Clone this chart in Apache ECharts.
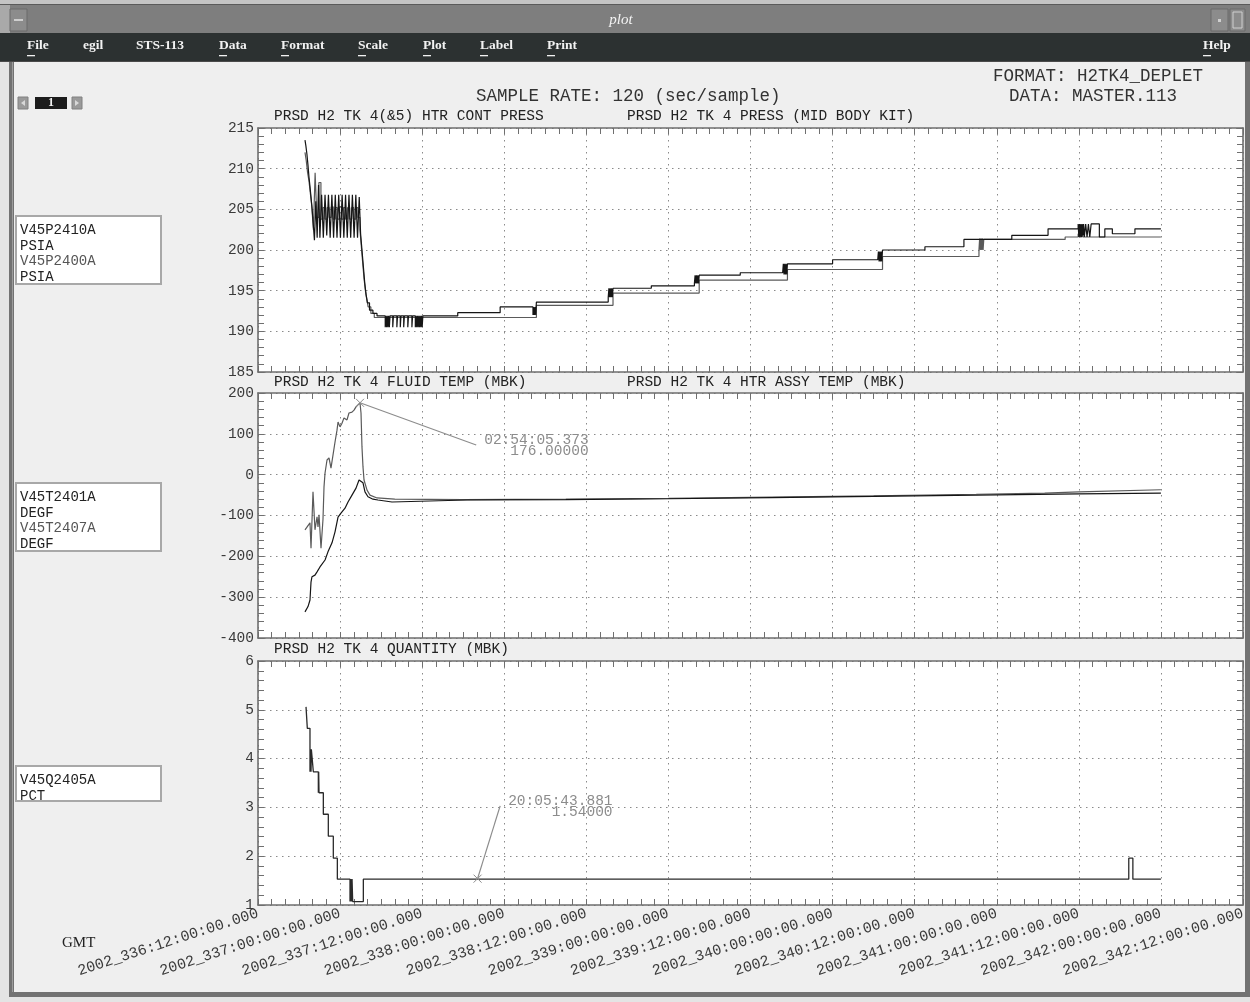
<!DOCTYPE html>
<html><head><meta charset="utf-8">
<script src="https://cdn.jsdelivr.net/npm/echarts/dist/echarts.min.js"></script>
<style>html,body{margin:0;padding:0;background:#efefef;}#c{width:1250px;height:1002px;}</style>
</head><body><div id="c"></div>
<script>
// x values: hours after 2002_336:12:00:00 GMT
const xTickLabels = ['2002_336:12:00:00.000','2002_337:00:00:00.000','2002_337:12:00:00.000','2002_338:00:00:00.000','2002_338:12:00:00.000','2002_339:00:00:00.000','2002_339:12:00:00.000','2002_340:00:00:00.000','2002_340:12:00:00.000','2002_341:00:00:00.000','2002_341:12:00:00.000','2002_342:00:00:00.000','2002_342:12:00:00.000'];

// PRSD H2 TK 4(&5) HTR CONT PRESS  (V45P2410A, PSIA)
const pressCont = [[6.87,213.5],[7.00,212.8],[7.15,211.8],[7.30,210.5],[7.45,209.0],[7.60,207.8],[7.75,206.5],[7.90,205.2],[8.05,203.5],[8.25,201.2],[8.45,206.0],[8.65,201.5],[8.85,208.0],[9.05,201.5],[9.30,206.8],[9.55,201.5],[9.80,206.8],[10.05,201.8],[10.30,206.8],[10.55,201.5],[10.80,206.8],[11.05,201.5],[11.30,206.8],[11.55,201.5],[11.80,206.8],[12.05,201.5],[12.30,206.8],[12.55,201.5],[12.80,206.8],[13.05,201.5],[13.30,206.8],[13.55,201.5],[13.80,206.8],[14.05,201.5],[14.30,206.8],[14.55,201.5],[14.80,206.5],[15.00,202.0],[15.20,200.0],[15.40,198.0],[15.60,196.0],[15.80,194.5],[16.00,193.5],[16.30,192.6],[16.80,192.2],[17.40,191.9],
  [18.6,190.5],[18.7,191.9],[18.8,190.5],[18.9,191.9],[19.0,190.5],[19.1,191.9],[19.2,190.5],[19.3,191.9],[19.7,190.5],[19.8,191.9],[20.3,190.5],[20.4,191.9],[20.8,190.5],[20.9,191.9],[21.3,190.5],[21.4,191.9],[21.9,190.5],[22.0,191.9],[22.5,190.5],[22.6,191.9],[23.0,190.5],[23.1,191.9],[23.2,190.5],[23.3,191.9],[23.4,190.5],[23.5,191.9],[23.6,190.5],[23.7,191.9],[23.8,190.5],[23.9,191.9],[24.0,190.5],[24.1,191.9],
  [29.2,192.3],[35.4,193.0],
  [40.2,192.0],[40.3,193.0],[40.4,192.0],[40.5,193.0],[40.6,192.0],[40.7,193.6],
  [51.2,194.2],[51.3,195.3],[51.4,194.2],[51.5,195.3],[51.6,194.2],[51.7,195.3],[51.8,194.2],[51.9,195.3],
  [57.5,195.6],
  [63.8,195.9],[63.9,196.9],[64.0,195.9],[64.1,196.9],[64.2,195.9],[64.3,196.9],[64.4,195.9],[64.5,196.9],
  [70.5,197.2],
  [76.7,197.0],[76.8,198.3],[76.9,197.0],[77.0,198.3],[77.1,197.0],[77.2,198.3],[77.3,197.0],[77.4,198.3],
  [84.0,198.8],
  [90.6,198.6],[90.7,199.8],[90.8,198.6],[90.9,199.8],[91.0,198.6],[91.1,199.8],[91.2,198.6],[91.3,200.0],
  [97.5,200.4],[103.2,201.3],[110.2,201.8],[115.5,202.6],
  [119.9,203.2],[120.0,201.6],[120.1,203.2],[120.2,201.6],[120.3,203.2],[120.4,201.6],[120.5,203.2],[120.6,201.8],[120.7,203.2],[120.8,201.6],[121.0,203.2],[121.2,201.6],[121.4,203.2],[121.6,201.6],[121.8,203.2],
  [123.0,201.6],[123.8,202.6],[124.9,202.0],[128.2,202.6],[132.0,202.6]];
// PRSD H2 TK 4 PRESS (MID BODY KIT)  (V45P2400A, PSIA)
const pressMid = [[6.87,212.0],[7.05,211.0],[7.25,209.5],[7.45,208.5],[7.65,207.0],[7.85,205.5],[8.10,202.5],[8.35,209.5],[8.60,204.0],[8.90,208.3],[9.20,203.8],[9.50,205.2],[9.80,203.8],[10.10,205.2],[10.40,204.0],[10.70,205.3],[11.00,203.8],[11.30,205.2],[11.60,203.8],[11.90,205.3],[12.20,203.8],[12.50,205.2],[12.80,203.8],[13.10,205.2],[13.40,203.8],[13.70,205.2],[14.00,203.8],[14.30,205.2],[14.60,204.0],[14.90,202.5],[15.10,200.5],[15.30,198.5],[15.50,196.5],[15.70,195.0],[15.90,194.0],[16.10,193.0],[16.50,192.2],[17.00,191.7],
  [40.7,193.2],[51.9,194.7],[64.5,196.3],[77.4,197.6],[91.3,199.2],
  [105.4,200.0],[105.5,201.4],[105.6,200.0],[105.7,201.4],[105.8,200.0],[105.9,201.4],[106.0,200.0],[106.1,201.3],
  [118.0,201.6],[119.9,202.0],[120.1,201.6],[120.4,202.2],[120.6,201.6],[132.0,201.6]];

// PRSD H2 TK 4 FLUID TEMP (MBK)  (V45T2401A, DEGF)
const fluidTemp = [[6.87,-336],[7.31,-323],[7.60,-307],[7.75,-263],[7.89,-250],[8.33,-246],[8.63,-238],[9.06,-226],[9.80,-209],[10.23,-189],[10.82,-167],[11.26,-140],[11.70,-104],[12.13,-94],[12.72,-82],[13.16,-67],[13.74,-50],[14.33,-33],[14.77,-13],[15.06,-11],[15.35,-20],[15.64,-42],[16.08,-54],[16.81,-60],[17.54,-62],[19.59,-67],[30.56,-62],[45,-61],[60,-59],[75,-56],[90,-53],[105,-50],[120,-47],[132,-45]];
// PRSD H2 TK 4 HTR ASSY TEMP (MBK)  (V45T2407A, DEGF)
const htrTemp = [[6.87,-135],[7.60,-118],[7.75,-180],[8.04,-42],[8.33,-135],[8.63,-103],[8.77,-128],[8.92,-98],[9.21,-180],[9.50,-110],[9.65,-30],[9.80,4],[10.09,36],[10.38,41],[10.67,16],[11.26,80],[11.55,109],[11.70,129],[11.99,117],[12.28,126],[12.57,139],[13.01,134],[13.30,151],[13.74,153],[14.04,158],[14.33,166],[14.62,163],[14.91,176],[15.06,151],[15.20,68],[15.35,19],[15.50,-13],[15.94,-38],[16.37,-50],[17.40,-57],[20,-60],[30,-61],[45,-60],[60,-58],[75,-55],[90,-52],[105,-48],[115,-45],[120,-42],[132,-37]];

// PRSD H2 TK 4 QUANTITY (MBK)  (V45Q2405A, PCT)
const quantity = [[7.02,5.06],[7.21,4.62],[7.60,3.73],[7.68,4.19],[7.75,3.73],[7.80,4.19],[8.09,3.73],[8.82,3.30],[8.87,3.73],[8.92,3.30],[9.55,2.86],[10.28,2.41],[11.01,1.96],[11.60,1.53],[13.45,1.07],[13.55,1.53],[13.65,1.07],[13.75,1.53],[13.84,1.07],[15.40,1.53],[127.3,1.96],[127.9,1.53],[132.0,1.53]];

// cursor read-outs: [hour, value], leader end [hour, value], texts
const tempCursor = [14.91, 176], tempCursorEnd = [31.9, 72.7], tempCursorText = ['02:54:05.373', '176.00000'];
const qtyCursor = [32.1, 1.54], qtyCursorEnd = [35.4, 3.03], qtyCursorText = ['20:05:43.881', '1.54000'];

const MONO = '"Liberation Mono", "DejaVu Sans Mono", monospace';
const SERIF = '"Liberation Serif", "DejaVu Serif", serif';
const AX = '#6f6f6f';

const grids = [
  {left: 258, right: 7, top: 128, height: 244},
  {left: 258, right: 7, top: 393, height: 245},
  {left: 258, right: 7, top: 661, height: 244}
];
const yRanges = [[185, 215, 5], [-400, 200, 100], [1, 6, 1]];

const xAxes = [], yAxes = [];
grids.forEach((g, i) => {
  const base = {
    type: 'value', gridIndex: i, min: 0, max: 144, interval: 12,
    axisLine: {show: true, onZero: false, lineStyle: {color: AX, width: 1.6}},
    axisTick: {show: true, inside: true, length: 6, lineStyle: {color: AX, width: 1}},
    minorTick: {show: true, splitNumber: 6, length: 6, lineStyle: {color: AX, width: 1}},
    minorSplitLine: {show: false}
  };
  xAxes.push(Object.assign({}, base, {
    position: 'bottom',
    splitLine: {show: true, lineStyle: {color: '#8a8a8a', width: 1, type: [1.5, 4.5]}},
    axisLabel: {
      show: i === 2, rotate: 18, margin: 8, color: '#3a3a3a', fontFamily: MONO, fontSize: 15,
      showMinLabel: true, showMaxLabel: true,
      formatter: v => xTickLabels[Math.round(v / 12)] || ''
    }
  }));
  xAxes.push(Object.assign({}, base, {position: 'top', splitLine: {show: false}, axisLabel: {show: false}}));
  const r = yRanges[i];
  const ybase = {
    type: 'value', gridIndex: i, min: r[0], max: r[1], interval: r[2],
    axisLine: {show: true, onZero: false, lineStyle: {color: AX, width: 1.6}},
    axisTick: {show: true, inside: true, length: 6, lineStyle: {color: AX, width: 1}},
    minorTick: {show: true, splitNumber: 5, length: 6, lineStyle: {color: AX, width: 1}}
  };
  yAxes.push(Object.assign({}, ybase, {
    position: 'left',
    splitLine: {show: true, lineStyle: {color: '#8a8a8a', width: 1, type: [1.5, 4.5]}},
    axisLabel: {show: true, margin: 4, color: '#3a3a3a', fontFamily: MONO, fontSize: 14.5, showMinLabel: true, showMaxLabel: true}
  }));
  yAxes.push(Object.assign({}, ybase, {position: 'right', splitLine: {show: false}, axisLabel: {show: false}}));
});

function line(name, data, grid, color, step, width) {
  return {
    name, type: 'line', data, xAxisIndex: grid * 2, yAxisIndex: grid * 2,
    step: step ? 'end' : false, symbol: 'none', showSymbol: false, smooth: false,
    lineStyle: {color, width: width || 1.2}, silent: true, animation: false, z: 5
  };
}

const chart = echarts.init(document.getElementById('c'), null, {renderer: 'canvas'});
chart.setOption({
  animation: false,
  backgroundColor: '#efefef',
  grid: grids.map(g => Object.assign({}, g, {show: true, backgroundColor: '#ffffff', borderWidth: 0, containLabel: false})),
  xAxis: xAxes,
  yAxis: yAxes,
  series: [
    line('V45P2400A', pressMid, 0, '#5a5a5a', true, 1.2),
    line('V45P2410A', pressCont, 0, '#151515', true, 1.2),
    line('V45T2407A', htrTemp, 1, '#5a5a5a', false, 1.2),
    line('V45T2401A', fluidTemp, 1, '#151515', false, 1.2),
    line('V45Q2405A', quantity, 2, '#2a2a2a', true, 1.3)
  ]
});

// ---------- window chrome & texts ----------
const G = [];
function rect(x, y, w, h, fill, stroke, lw) {
  G.push({type: 'rect', shape: {x, y, width: w, height: h}, style: {fill: fill || 'none', stroke: stroke || null, lineWidth: lw || 1}, silent: true, z: 100});
}
function text(x, y, s, font, color, align, extra) {
  G.push({type: 'text', x, y, style: Object.assign({text: s, font, fill: color, textAlign: align || 'left', textVerticalAlign: 'middle', align: align || 'left', verticalAlign: 'middle'}, extra || {}), silent: true, z: 101});
}
function seg(x1, y1, x2, y2, color, w) {
  G.push({type: 'line', shape: {x1, y1, x2, y2}, style: {stroke: color, lineWidth: w || 1}, silent: true, z: 102});
}

// frame
rect(0, 0, 1250, 33, '#7e7e7e');
rect(0, 0, 1250, 4, '#c4c4c4');
rect(0, 4, 1250, 1, '#5a5a5a');
rect(0, 5, 10, 28, '#a9a9a9');
rect(10, 9, 17, 22, '#8c8c8c', '#6a6a6a', 1);
rect(14, 19, 9, 2, '#cfcfcf');
rect(1211, 9, 17, 22, '#8c8c8c', '#6a6a6a', 1);
rect(1218, 19, 3, 3, '#cfcfcf');
rect(1230, 9, 15, 22, '#8c8c8c', '#6a6a6a', 1);
rect(1233, 12, 9, 16, 'none', '#cfcfcf', 1);
text(621, 20, 'plot', 'italic 15px ' + SERIF, '#f4f4f4', 'center');
rect(0, 33, 1250, 28, '#2c3131');
rect(0, 61, 1250, 1, '#4a4a4a');
// borders
rect(0, 62, 9, 940, '#e4e4e4');
rect(9, 62, 5, 932, '#727272');
rect(12, 62, 1, 932, '#9c9c9c');
rect(1245, 62, 5, 940, '#727272');
rect(9, 992, 1241, 5, '#727272');
rect(0, 997, 1250, 5, '#e4e4e4');

// menu
const menu = [['File', 27, true], ['egil', 83, false], ['STS-113', 136, false], ['Data', 219, true], ['Format', 281, true], ['Scale', 358, true], ['Plot', 423, true], ['Label', 480, true], ['Print', 547, true], ['Help', 1203, true]];
menu.forEach(m => {
  text(m[1], 46, m[0], 'bold 13.5px ' + SERIF, '#f2f2f2', 'left');
  if (m[2]) rect(m[1], 55, 8, 1.3, '#f2f2f2');
});

// page selector
rect(18, 97, 10, 12, '#9a9a9a', '#808080', 1);
G.push({type: 'polygon', shape: {points: [[25, 100], [25, 106], [21, 103]]}, style: {fill: '#d8d8d8'}, silent: true, z: 102});
rect(35, 97, 32, 12, '#1c1c1c');
text(51, 103, '1', 'bold 12px ' + SERIF, '#f2f2f2', 'center');
rect(72, 97, 10, 12, '#9a9a9a', '#808080', 1);
G.push({type: 'polygon', shape: {points: [[75, 100], [75, 106], [79, 103]]}, style: {fill: '#d8d8d8'}, silent: true, z: 102});

// headers
text(476, 96, 'SAMPLE RATE: 120 (sec/sample)', '17.5px ' + MONO, '#333333', 'left');
text(1203, 76, 'FORMAT: H2TK4_DEPLET', '17.5px ' + MONO, '#333333', 'right');
text(1009, 96, 'DATA: MASTER.113', '17.5px ' + MONO, '#333333', 'left');

// panel titles
text(274, 116, 'PRSD H2 TK 4(&5) HTR CONT PRESS', '14.5px ' + MONO, '#222222', 'left');
text(627, 116, 'PRSD H2 TK 4 PRESS (MID BODY KIT)', '14.5px ' + MONO, '#222222', 'left');
text(274, 382, 'PRSD H2 TK 4 FLUID TEMP (MBK)', '14.5px ' + MONO, '#222222', 'left');
text(627, 382, 'PRSD H2 TK 4 HTR ASSY TEMP (MBK)', '14.5px ' + MONO, '#222222', 'left');
text(274, 649, 'PRSD H2 TK 4 QUANTITY (MBK)', '14.5px ' + MONO, '#222222', 'left');

// legend boxes
function legendBox(y, h, lines) {
  rect(16, y, 145, h, '#ffffff', '#a8a8a8', 2);
  lines.forEach((l, k) => text(20, y + 14 + k * 15.8, l[0], '14px ' + MONO, l[1], 'left'));
}
legendBox(216, 68, [['V45P2410A', '#222222'], ['PSIA', '#222222'], ['V45P2400A', '#555555'], ['PSIA', '#222222']]);
legendBox(483, 68, [['V45T2401A', '#222222'], ['DEGF', '#222222'], ['V45T2407A', '#555555'], ['DEGF', '#222222']]);
legendBox(766, 35, [['V45Q2405A', '#222222'], ['PCT', '#222222']]);

text(62, 943, 'GMT', '15px ' + SERIF, '#222222', 'left');

// cursors (positions through the chart's own scales)
function cursor(grid, pt, end, txt) {
  const p = chart.convertToPixel({xAxisIndex: grid * 2, yAxisIndex: grid * 2}, pt);
  const e = chart.convertToPixel({xAxisIndex: grid * 2, yAxisIndex: grid * 2}, end);
  const c = '#8c8c8c';
  seg(p[0] - 4, p[1] - 4, p[0] + 4, p[1] + 4, c, 1);
  seg(p[0] - 4, p[1] + 4, p[0] + 4, p[1] - 4, c, 1);
  seg(p[0], p[1], e[0], e[1], c, 1.2);
  text(e[0] + 8, e[1] - 5, txt[0], '14.5px ' + MONO, c, 'left');
  text(e[0] + 8 + txt[0].length * 8.7, e[1] + 6, txt[1], '14.5px ' + MONO, c, 'right');
}
cursor(1, tempCursor, tempCursorEnd, tempCursorText);
cursor(2, qtyCursor, qtyCursorEnd, qtyCursorText);

chart.setOption({graphic: G});
</script></body></html>
